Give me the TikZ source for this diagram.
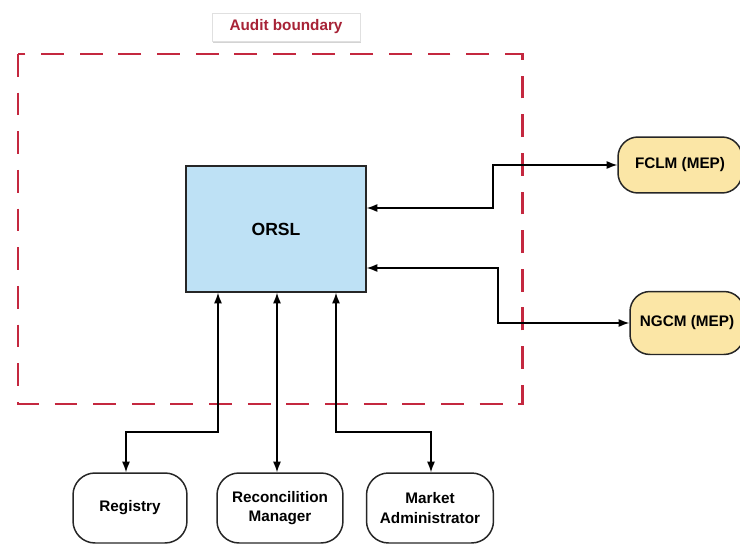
\documentclass[tikz,border=0pt]{standalone}
\usepackage{fontspec}
\setmainfont{Liberation Sans}
\usetikzlibrary{arrows.meta,shadows}
\definecolor{auditred}{RGB}{196,40,63}
\definecolor{orslblue}{RGB}{190,225,245}
\definecolor{mepyellow}{RGB}{251,230,166}
\tikzset{
    box/.style={draw=black!85, line width=0.85pt, font=\bfseries\fontsize{8.7}{11}\selectfont, align=center},
    party/.style={box, rounded corners=0.44cm, minimum height=1.4cm},
    mep/.style={box, fill=mepyellow, rounded corners=0.4cm},
    link/.style={line width=0.7pt, {Latex[length=6pt,width=4.5pt]}-{Latex[length=6pt,width=4.5pt]}}
}
\begin{document}
\begin{tikzpicture}[x=0.02cm,y=-0.02cm]
    \useasboundingbox (0,0) rectangle (740,544);
    \draw [auditred, line width=1.7pt, dash pattern=on 13pt off 9pt] (18,54) rectangle (522,404);
    \node [draw=black!12, fill=white, drop shadow={opacity=0.35,shadow xshift=0.6pt,shadow yshift=-1.2pt},
        text=auditred!85!black, font=\bfseries\fontsize{8.7}{10}\selectfont,
        minimum width=2.96cm, minimum height=0.56cm] (label) at (286,27) {Audit boundary};
    \node [box, fill=orslblue, font=\bfseries\fontsize{10}{12}\selectfont,
        minimum width=3.6cm, minimum height=2.52cm] (orsl) at (276,229) {ORSL};
    \node [mep, minimum width=2.48cm, minimum height=1.12cm] (fclm) at (680,165) {FCLM (MEP)};
    \node [mep, minimum width=2.28cm, minimum height=1.26cm] (ngcm) at (687,323) {NGCM (MEP)};
    \node [party, minimum width=2.28cm] (registry) at (130,508) {Registry};
    \node [party, minimum width=2.52cm] (recon) at (280,508) {Reconcilition\\Manager};
    \node [party, minimum width=2.54cm] (market) at (430,508) {Market\\Administrator};
    % market participants
    \draw [link] (orsl.east |- 0,208) -| (493,165) -- (fclm.west);
    \draw [link] (orsl.east |- 0,268) -| (498,323) -- (ngcm.west);
    % parties below
    \draw [link] (orsl.south -| 218,0) |- (126,432) -- (registry.north -| 126,0);
    \draw [link] (orsl.south -| 277,0) -- (recon.north -| 277,0);
    \draw [link] (orsl.south -| 336,0) |- (431,432) -- (market.north -| 431,0);
\end{tikzpicture}
\end{document}
